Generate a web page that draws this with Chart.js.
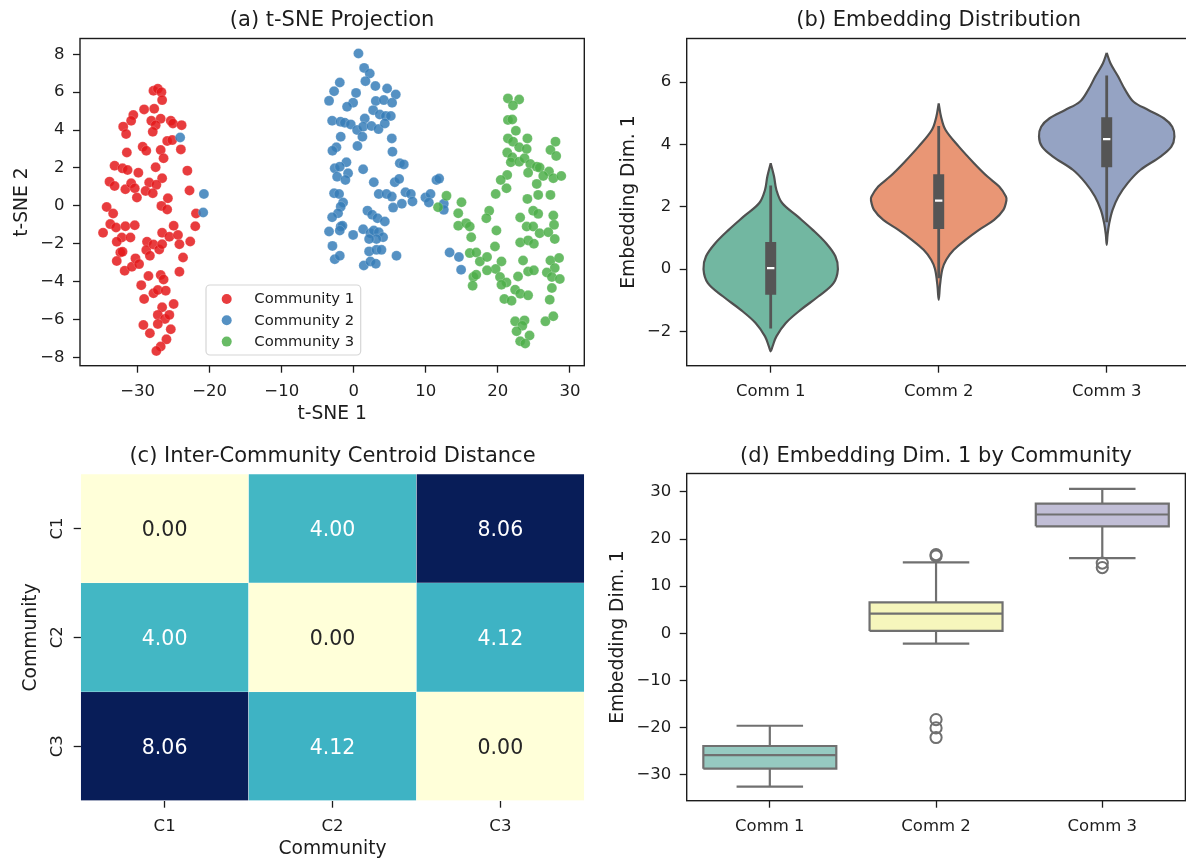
<!DOCTYPE html>
<html>
<head>
<meta charset="utf-8">
<script src="https://cdn.jsdelivr.net/npm/chart.js"></script>
<style>
  html, body { margin: 0; padding: 0; background: #ffffff; overflow: hidden; width: 1186px; height: 862px; }
  canvas { position: absolute; }
</style>
</head>
<body>
<canvas id="panelA" width="593" height="431" style="left:0;top:0;width:593px;height:431px"></canvas>
<canvas id="panelB" width="600" height="431" style="left:593px;top:0;width:600px;height:431px"></canvas>
<canvas id="panelC" width="593" height="431" style="left:0;top:431px;width:593px;height:431px"></canvas>
<canvas id="panelD" width="600" height="431" style="left:593px;top:431px;width:600px;height:431px"></canvas>
<script>
// ---------------- data ----------------
const communityNames = ['Community 1', 'Community 2', 'Community 3'];

// t-SNE coordinates [x, y] per community
const community1Tsne = [
  [-27.8,6.07],[-27.2,6.18],[-26.7,6.0],[-26.6,5.58],[-29.1,5.09],[-27.7,5.12],[-30.6,4.79],[-30.9,4.49],
  [-32.0,4.18],[-31.6,3.79],[-28.1,4.49],[-26.8,4.6],[-27.5,4.26],[-27.9,3.91],[-25.4,4.49],[-25.1,4.35],
  [-23.9,4.26],[-25.9,3.42],[-25.2,3.47],[-24.0,2.98],[-29.3,3.12],[-28.8,2.91],[-26.8,2.95],[-26.4,2.51],
  [-31.5,2.82],[-33.2,2.12],[-32.1,1.98],[-31.4,1.89],[-29.9,1.75],[-27.5,2.04],[-23.1,1.86],[-26.6,1.46],
  [-33.9,1.28],[-33.2,1.05],[-31.7,0.88],[-30.9,1.19],[-30.4,0.93],[-28.4,1.23],[-27.4,1.11],[-28.9,0.79],
  [-27.9,0.67],[-30.1,0.44],[-25.8,0.40],[-22.8,0.81],[-26.7,0.0],[-34.3,-0.06],
  [-33.4,-0.4],[-25.9,-0.19],[-21.9,-0.4],[-34.8,-1.42],[-33.8,-0.96],[-33.0,-1.14],[-31.7,-1.07],[-30.4,-1.02],
  [-32.2,-1.67],[-31.0,-1.67],[-32.9,-1.89],[-32.4,-2.46],[-32.1,-2.42],[-32.9,-2.91],[-31.8,-3.42],[-30.8,-3.21],
  [-30.3,-2.77],[-29.8,-3.07],[-28.7,-1.89],[-28.8,-2.33],[-28.3,-2.63],[-27.8,-2.04],[-27.0,-2.3],[-26.6,-2.02],
  [-26.6,-1.42],[-25.6,-1.63],[-25.0,-1.05],[-24.4,-1.54],[-24.2,-2.02],[-22.7,-1.88],[-22.0,-1.07],[-23.7,-2.72],
  [-24.2,-3.47],[-29.5,-4.18],[-28.5,-3.7],[-26.8,-3.65],[-26.4,-3.88],[-27.8,-4.61],[-27.2,-4.44],[-26.1,-4.47],
  [-29.1,-4.91],[-25.0,-5.18],[-26.6,-5.35],[-27.2,-5.75],[-26.2,-5.96],[-25.6,-5.75],[-29.2,-6.28],[-27.2,-6.23],
  [-25.4,-6.51],[-28.3,-6.72],[-26.0,-7.04],[-26.8,-7.42],[-27.4,-7.65]
];
const community2Tsne = [
  [-24.1,3.61],[-20.8,0.63],[-20.9,-0.35],
  [0.65,8.04],[1.44,7.28],[2.22,6.98],[1.62,6.58],[-1.94,6.51],[-2.73,6.05],[-3.43,5.54],[0.32,5.96],
  [3.0,6.32],[4.63,6.19],[5.83,5.88],[-0.09,5.44],[-0.93,5.23],[3.06,5.53],[4.17,5.58],[5.32,5.44],
  [2.69,5.05],[3.61,4.82],[4.44,4.74],[5.14,4.74],[1.53,4.61],[-3.0,4.49],[-1.85,4.44],[-1.25,4.39],
  [-0.42,4.3],[0.46,4.0],[1.3,4.18],[2.45,4.21],[3.43,4.05],[4.31,4.35],[-1.81,3.65],[1.2,3.65],
  [5.28,3.56],[-2.41,3.09],[-2.96,2.91],[0.51,3.16],[5.37,2.86],[-1.02,2.3],[-2.64,1.98],[-1.94,2.07],
  [-0.79,1.72],[-2.31,1.54],[-1.16,1.37],[1.3,1.93],[6.39,2.25],[6.94,2.19],[2.78,1.25],[5.69,1.25],
  [6.3,1.42],[11.48,1.37],[11.85,1.44],[-2.73,0.67],[-2.04,0.63],[3.47,0.63],[4.54,0.63],[5.28,0.49],
  [7.18,0.72],[7.92,0.63],[8.15,0.23],[6.67,0.11],[5.46,-0.09],[-1.48,0.18],[-1.81,-0.04],[9.95,0.44],
  [10.65,0.63],[10.42,0.18],[12.5,0.11],[12.5,-0.21],[1.9,-0.25],[2.55,-0.47],[3.29,-0.65],[4.31,-0.82],
  [-2.18,-0.39],[-3.0,-0.6],
  [-3.43,-1.35],[-1.81,-1.09],[-1.57,-1.05],[-1.94,-1.3],[-0.09,-1.53],[1.3,-1.23],[2.31,-1.44],[2.78,-1.3],
  [3.47,-1.39],[4.07,-1.65],[3.15,-1.75],[2.13,-1.75],[-2.96,-2.11],[2.13,-2.4],[3.15,-2.32],[3.84,-2.32],
  [5.93,-2.63],[-2.64,-2.81],[-1.94,-2.63],[1.39,-3.14],[2.31,-2.93],[3.06,-3.05],[13.3,-2.46],[14.6,-2.7],
  [14.9,-3.37]
];
const community3Tsne = [
  [21.4,5.67],[22.96,5.61],[22.1,5.3],[21.4,4.53],[22.0,4.56],[22.5,3.96],[21.4,3.56],[22.1,3.39],
  [24.1,3.56],[28.0,3.39],[22.96,3.09],[24.0,3.0],[27.3,2.95],[28.1,2.63],[21.3,2.81],[22.0,2.56],
  [21.8,2.3],[22.96,2.33],[23.7,2.51],[24.5,2.21],[25.4,2.07],[25.8,2.02],[27.1,1.81],[26.3,1.58],
  [27.7,1.46],[28.8,1.58],[24.2,1.75],[21.3,1.63],[20.4,1.37],[21.2,0.93],[25.4,1.16],[12.87,0.53],
  [19.7,0.63],[25.6,0.58],[27.3,0.58],[14.95,0.19],[24.1,0.37],[11.7,-0.07],[14.5,-0.39],[18.8,-0.26],
  [18.4,-0.65],[24.9,-0.26],[25.6,-0.42],[23.1,-0.61],[27.7,-0.51],[14.5,-1.05],[15.6,-0.91],[16.1,-1.09],
  [24.0,-1.09],[24.9,-1.09],[27.8,-1.0],[19.8,-1.3],
  [16.3,-1.65],[25.8,-1.44],[27.0,-1.39],[27.9,-1.75],[23.1,-1.93],[24.2,-1.82],[25.0,-2.0],[19.6,-2.14],
  [16.1,-2.49],[17.0,-2.46],[17.5,-2.93],[18.5,-2.7],[20.5,-2.93],[19.7,-3.33],[18.5,-3.4],[20.3,-3.75],
  [21.2,-4.04],[20.5,-4.16],[16.6,-3.75],[17.0,-3.63],[16.5,-4.21],[23.5,-2.88],[22.8,-3.72],[24.2,-3.46],
  [25.0,-3.4],[27.3,-2.88],[28.5,-2.75],[27.9,-3.28],[26.8,-3.51],[27.5,-3.75],[28.6,-3.86],[27.5,-4.33],
  [22.4,-4.42],[23.1,-4.63],[24.2,-4.72],[20.9,-4.91],[21.9,-5.0],[27.2,-4.95],[22.4,-6.09],[23.7,-6.04],
  [23.4,-6.32],[22.6,-6.61],[24.4,-6.84],[23.1,-7.14],[23.8,-7.26],[26.6,-6.09],[27.7,-5.82]
];
const tsneXTicks = [-30, -20, -10, 0, 10, 20, 30];
const tsneYTicks = [-8, -6, -4, -2, 0, 2, 4, 6, 8];

// violin profiles: value levels (top to bottom) and density half-widths
const commLabels = ['Comm 1', 'Comm 2', 'Comm 3'];
const violinLevels1 = [3.40, 2.97, 2.54, 2.12, 1.69, 1.26, 0.83, 0.41, 0.0, -0.45, -0.88, -1.30, -1.73, -2.16, -2.48, -2.64];
const violinHalf1   = [0, 0.02, 0.034, 0.068, 0.16, 0.25, 0.33, 0.385, 0.40, 0.374, 0.283, 0.18, 0.09, 0.034, 0.011, 0];
const violinLevels2 = [5.32, 4.89, 4.47, 3.93, 3.40, 2.97, 2.65, 2.33, 2.2, 1.90, 1.58, 1.26, 0.94, 0.62, 0.30, 0.0, -0.5, -0.98];
const violinHalf2   = [0, 0.014, 0.04, 0.12, 0.21, 0.29, 0.36, 0.40, 0.403, 0.385, 0.33, 0.24, 0.16, 0.09, 0.045, 0.022, 0.008, 0];
const violinLevels3 = [6.94, 6.60, 6.18, 5.75, 5.37, 5.10, 4.84, 4.57, 4.25, 3.93, 3.61, 3.18, 2.76, 2.33, 1.90, 1.47, 1.10, 0.78];
const violinHalf3   = [0, 0.023, 0.068, 0.11, 0.16, 0.25, 0.34, 0.39, 0.403, 0.385, 0.32, 0.2, 0.125, 0.07, 0.035, 0.015, 0.005, 0];
const violinQ1 = [-0.82, 1.29, 3.27];
const violinMedian = [0.03, 2.2, 4.17];
const violinQ3 = [0.87, 3.04, 4.87];
const violinWhiskerLow = [-1.91, -0.29, 1.50];
const violinWhiskerHigh = [2.68, 4.59, 6.21];
const violinYTicks = [-2, 0, 2, 4, 6];

// centroid distance matrix
const heatLabels = ['C1', 'C2', 'C3'];
const centroidDist = [
  [0.00, 4.00, 8.06],
  [4.00, 0.00, 4.12],
  [8.06, 4.12, 0.00]
];

// box plot statistics of embedding dim. 1
const boxQ1 = [-28.7, 0.5, 22.7];
const boxMedian = [-25.85, 4.17, 25.2];
const boxQ3 = [-23.9, 6.57, 27.5];
const boxWhiskerLow = [-32.5, -2.2, 15.95];
const boxWhiskerHigh = [-19.6, 15.04, 30.66];
const boxOutliers = [[], [16.4, 16.7, -18.3, -20.06, -22.1], [14.9, 13.95]];
const boxYTicks = [-30, -20, -10, 0, 10, 20, 30];

// ---------------- styles ----------------
const FONT = 'DejaVu Sans';
const INK = '#1c1c1c';
const scatterColors = ['rgba(228,26,28,0.85)', 'rgba(55,126,184,0.85)', 'rgba(77,175,74,0.85)'];
const violinFill = ['#72b7a1', '#e99675', '#95a3c3'];
const violinLine = '#505050';
const boxFill = ['#96cac1', '#f6f6bc', '#c1bed6'];
const boxLine = '#707070';
const ylgnbuStops = ['#ffffd9', '#edf8b1', '#c7e9b4', '#7fcdbb', '#41b6c4', '#1d91c0', '#225ea8', '#253494', '#081d58'];

Chart.defaults.font.family = FONT;
Chart.defaults.color = INK;
Chart.defaults.animation = false;

const fmtNum = v => (v < 0 ? '\u2212' + Math.abs(v) : String(v));

function hexRgb(h) {
  return [parseInt(h.slice(1, 3), 16), parseInt(h.slice(3, 5), 16), parseInt(h.slice(5, 7), 16)];
}
function ylgnbuRgb(t) {
  t = Math.max(0, Math.min(1, t));
  const p = t * (ylgnbuStops.length - 1);
  const k = Math.min(Math.floor(p), ylgnbuStops.length - 2);
  const f = p - k;
  const a = hexRgb(ylgnbuStops[k]), b = hexRgb(ylgnbuStops[k + 1]);
  return a.map((c, i) => Math.round(c + (b[i] - c) * f));
}
function rgbStr(c) { return 'rgb(' + c.join(',') + ')'; }
function luminance(c) {
  const lin = c.map(v => { v /= 255; return v <= 0.03928 ? v / 12.92 : Math.pow((v + 0.055) / 1.055, 2.4); });
  return 0.2126 * lin[0] + 0.7152 * lin[1] + 0.0722 * lin[2];
}
const maxDist = Math.max(...centroidDist.flat());

// axis factory: tick marks outside, no grid lines, fixed axis box size
function makeAxis(o) {
  const ax = {
    type: o.type || 'linear',
    reverse: !!o.reverse,
    afterFit: s => {
      if (o.width !== undefined) s.width = o.width;
      if (o.height !== undefined) s.height = o.height;
    },
    grid: { display: true, drawOnChartArea: false, drawTicks: true, tickLength: 7, tickWidth: 1.3, tickColor: INK, offset: false },
    border: { display: false },
    ticks: { display: o.showLabels !== false, color: INK, font: { size: 16.5, family: FONT }, padding: o.pad, autoSkip: false, maxRotation: 0, minRotation: 0 },
    title: { display: false }
  };
  if (o.min !== undefined) ax.min = o.min;
  if (o.max !== undefined) ax.max = o.max;
  if (o.offset !== undefined) ax.offset = o.offset;
  if (o.ticks) ax.afterBuildTicks = s => { s.ticks = o.ticks.map(v => ({ value: v })); };
  if (o.format) ax.ticks.callback = o.format;
  if (o.title) ax.title = { display: true, text: o.title, color: INK, font: { size: 18.7, family: FONT }, padding: { top: o.titlePad, bottom: o.titlePad } };
  return ax;
}

// ---------------- plugins ----------------
const frame = {
  id: 'frame',
  afterDatasetsDraw(chart) {
    const { ctx, chartArea: a } = chart;
    ctx.save();
    ctx.strokeStyle = INK;
    ctx.lineWidth = 1.4;
    ctx.strokeRect(a.left, a.top, a.right - a.left, a.bottom - a.top);
    ctx.restore();
  }
};

const panelTitle = {
  id: 'panelTitle',
  afterDraw(chart, args, opts) {
    const { ctx, chartArea: a } = chart;
    ctx.save();
    ctx.font = '21px "' + FONT + '"';
    ctx.fillStyle = INK;
    ctx.textAlign = 'center';
    ctx.textBaseline = 'alphabetic';
    ctx.fillText(opts.text, (a.left + a.right) / 2, opts.baseline);
    ctx.restore();
  }
};

const boxLegend = {
  id: 'boxLegend',
  afterDatasetsDraw(chart, args, opts) {
    const { ctx } = chart;
    ctx.save();
    ctx.beginPath();
    ctx.roundRect(opts.left, opts.top, opts.width, opts.height, 4);
    ctx.fillStyle = 'rgba(255,255,255,0.8)';
    ctx.fill();
    ctx.strokeStyle = '#d6d6d6';
    ctx.lineWidth = 1.2;
    ctx.stroke();
    ctx.font = '14.8px "' + FONT + '"';
    ctx.textBaseline = 'middle';
    ctx.textAlign = 'left';
    chart.data.datasets.forEach((ds, i) => {
      const cy = opts.top + opts.firstRow + i * opts.rowGap;
      ctx.beginPath();
      ctx.arc(opts.left + opts.markerX, cy, 5, 0, Math.PI * 2);
      ctx.fillStyle = ds.backgroundColor;
      ctx.fill();
      ctx.fillStyle = INK;
      ctx.fillText(ds.label, opts.left + opts.textX, cy + 0.5);
    });
    ctx.restore();
  }
};

const cellText = {
  id: 'cellText',
  afterDatasetsDraw(chart) {
    const { ctx, scales: { x, y } } = chart;
    ctx.save();
    ctx.font = '20.5px "' + FONT + '"';
    ctx.textAlign = 'center';
    ctx.textBaseline = 'alphabetic';
    centroidDist.forEach((row, r) => row.forEach((v, c) => {
      const col = ylgnbuRgb(v / maxDist);
      ctx.fillStyle = luminance(col) > 0.408 ? '#262626' : '#ffffff';
      ctx.fillText(v.toFixed(2), x.getPixelForValue(c), y.getPixelForValue(r + 0.5) + 7.5);
    }));
    ctx.restore();
  }
};

// vertical row labels of the heatmap, read bottom to top
const rowLabels = {
  id: 'rowLabels',
  afterDraw(chart) {
    const { ctx, chartArea: a, scales: { y } } = chart;
    ctx.save();
    ctx.font = '16.5px "' + FONT + '"';
    ctx.fillStyle = INK;
    ctx.textAlign = 'center';
    ctx.textBaseline = 'alphabetic';
    heatLabels.forEach((lab, r) => {
      ctx.save();
      ctx.translate(a.left - 18.5, y.getPixelForValue(r + 0.5));
      ctx.rotate(-Math.PI / 2);
      ctx.fillText(lab, 0, 0);
      ctx.restore();
    });
    ctx.restore();
  }
};

const quiet = { legend: { display: false }, tooltip: { enabled: false } };

// ---------------- (a) t-SNE projection ----------------
const tsneSets = [community1Tsne, community2Tsne, community3Tsne];
new Chart(document.getElementById('panelA'), {
  type: 'scatter',
  data: {
    datasets: tsneSets.map((pts, i) => ({
      label: communityNames[i],
      data: pts.map(([x, y]) => ({ x, y })),
      backgroundColor: scatterColors[i],
      borderColor: 'rgba(255,255,255,0.3)',
      borderWidth: 0.6,
      pointRadius: 5,
      pointHoverRadius: 5,
      order: tsneSets.length - i
    }))
  },
  options: {
    responsive: false, events: [],
    layout: { padding: { left: 0, top: 38.5, right: 8.7, bottom: 5.3 } },
    plugins: Object.assign({
      panelTitle: { text: '(a) t-SNE Projection', baseline: 26 },
      boxLegend: { left: 206, top: 285, width: 154.7, height: 70, firstRow: 14, rowGap: 21.3, markerX: 20.7, textX: 48.3 }
    }, quiet),
    scales: {
      x: makeAxis({ min: -38, max: 32, ticks: tsneXTicks, format: fmtNum, height: 60, pad: 9.5, title: 't-SNE 1', titlePad: 0 }),
      y: makeAxis({ min: -8.43, max: 8.83, ticks: tsneYTicks, format: fmtNum, width: 80, pad: 8.5, title: 't-SNE 2', titlePad: 10.5 })
    }
  },
  plugins: [frame, panelTitle, boxLegend]
});

// ---------------- (b) violin plot ----------------
function violinOutline(i, levels, half) {
  const right = levels.map((y, k) => ({ x: i + half[k], y }));
  const left = levels.map((y, k) => ({ x: i - half[k], y })).reverse();
  return right.concat(left.slice(1));
}
const violinProfiles = [[violinLevels1, violinHalf1], [violinLevels2, violinHalf2], [violinLevels3, violinHalf3]];
const violinSets = [];
violinProfiles.forEach(([lv, hw], i) => {
  violinSets.push({
    data: violinOutline(i, lv, hw), fill: 'shape', backgroundColor: violinFill[i],
    borderColor: violinLine, borderWidth: 2.2, tension: 0.35, pointRadius: 0, order: 3
  });
  violinSets.push({
    data: [{ x: i, y: violinWhiskerLow[i] }, { x: i, y: violinWhiskerHigh[i] }],
    borderColor: '#555555', borderWidth: 2.8, borderCapStyle: 'butt', pointRadius: 0, fill: false, order: 2
  });
  violinSets.push({
    data: [{ x: i, y: violinQ1[i] }, { x: i, y: violinQ3[i] }],
    borderColor: '#555555', borderWidth: 11, borderCapStyle: 'butt', pointRadius: 0, fill: false, order: 1
  });
  violinSets.push({
    data: [{ x: i - 0.022, y: violinMedian[i] }, { x: i + 0.022, y: violinMedian[i] }],
    borderColor: '#ffffff', borderWidth: 2.2, borderCapStyle: 'butt', pointRadius: 0, fill: false, order: 0
  });
});
new Chart(document.getElementById('panelB'), {
  type: 'line',
  data: { datasets: violinSets },
  options: {
    responsive: false, events: [],
    layout: { padding: { left: 0, top: 38.5, right: 2.3, bottom: 5.3 } },
    plugins: Object.assign({ panelTitle: { text: '(b) Embedding Distribution', baseline: 26 } }, quiet),
    scales: {
      x: makeAxis({ min: -0.5, max: 2.5, ticks: [0, 1, 2], format: v => commLabels[v], height: 60, pad: 9.5 }),
      y: makeAxis({ min: -3.1, max: 7.4, ticks: violinYTicks, format: fmtNum, width: 93.7, pad: 8.5, title: 'Embedding Dim. 1', titlePad: 25.4 })
    }
  },
  plugins: [frame, panelTitle]
});

// ---------------- (c) centroid distance heatmap ----------------
new Chart(document.getElementById('panelC'), {
  type: 'bar',
  data: {
    labels: heatLabels,
    datasets: centroidDist.map((row, r) => ({
      data: row.map(() => [r, r + 1]),
      backgroundColor: row.map(v => rgbStr(ylgnbuRgb(v / maxDist))),
      borderColor: 'rgba(255,255,255,0.45)',
      borderWidth: 0.5,
      borderSkipped: false,
      grouped: false,
      barPercentage: 1,
      categoryPercentage: 1
    }))
  },
  options: {
    responsive: false, events: [],
    layout: { padding: { left: 0, top: 43, right: 8.7, bottom: 1.3 } },
    plugins: Object.assign({ panelTitle: { text: '(c) Inter-Community Centroid Distance', baseline: 31 } }, quiet),
    scales: {
      x: makeAxis({ type: 'category', offset: true, height: 60, pad: 9.5, title: 'Community', titlePad: 0.3 }),
      y: makeAxis({ min: 0, max: 3, reverse: true, ticks: [0.5, 1.5, 2.5], showLabels: false, width: 80.7, title: 'Community', titlePad: 20 })
    }
  },
  plugins: [panelTitle, cellText, rowLabels]
});

// ---------------- (d) box plot ----------------
const BOX_HALF = 0.4, CAP_HALF = 0.2;
const boxSets = [];
commLabels.forEach((lab, i) => {
  const q1 = boxQ1[i], q3 = boxQ3[i];
  boxSets.push({
    data: [{ x: i - BOX_HALF, y: q1 }, { x: i + BOX_HALF, y: q1 }, { x: i + BOX_HALF, y: q3 }, { x: i - BOX_HALF, y: q3 }, { x: i - BOX_HALF, y: q1 }],
    fill: 'shape', backgroundColor: boxFill[i], borderColor: boxLine, borderWidth: 2.2, borderJoinStyle: 'miter', pointRadius: 0, order: 3
  });
  const seg = (pts) => ({ data: pts, borderColor: boxLine, borderWidth: 2.2, borderCapStyle: 'butt', pointRadius: 0, fill: false, order: 2 });
  boxSets.push(seg([{ x: i, y: q1 }, { x: i, y: boxWhiskerLow[i] }]));
  boxSets.push(seg([{ x: i, y: q3 }, { x: i, y: boxWhiskerHigh[i] }]));
  boxSets.push(seg([{ x: i - CAP_HALF, y: boxWhiskerLow[i] }, { x: i + CAP_HALF, y: boxWhiskerLow[i] }]));
  boxSets.push(seg([{ x: i - CAP_HALF, y: boxWhiskerHigh[i] }, { x: i + CAP_HALF, y: boxWhiskerHigh[i] }]));
  boxSets.push(Object.assign(seg([{ x: i - BOX_HALF, y: boxMedian[i] }, { x: i + BOX_HALF, y: boxMedian[i] }]), { order: 1 }));
  boxSets.push({
    data: boxOutliers[i].map(v => ({ x: i, y: v })), showLine: false,
    pointRadius: 5.6, pointBorderWidth: 2, pointBorderColor: boxLine, pointBackgroundColor: 'rgba(0,0,0,0)', order: 0
  });
});
new Chart(document.getElementById('panelD'), {
  type: 'line',
  data: { datasets: boxSets },
  options: {
    responsive: false, events: [],
    layout: { padding: { left: 0, top: 42.5, right: 2.3, bottom: 1.3 } },
    plugins: Object.assign({ panelTitle: { text: '(d) Embedding Dim. 1 by Community', baseline: 31 } }, quiet),
    scales: {
      x: makeAxis({ min: -0.5, max: 2.5, ticks: [0, 1, 2], format: v => commLabels[v], height: 60, pad: 9.5 }),
      y: makeAxis({ min: -35.5, max: 33.9, ticks: boxYTicks, format: fmtNum, width: 93.7, pad: 8.5, title: 'Embedding Dim. 1', titlePad: 14.4 })
    }
  },
  plugins: [frame, panelTitle]
});
</script>
</body>
</html>
